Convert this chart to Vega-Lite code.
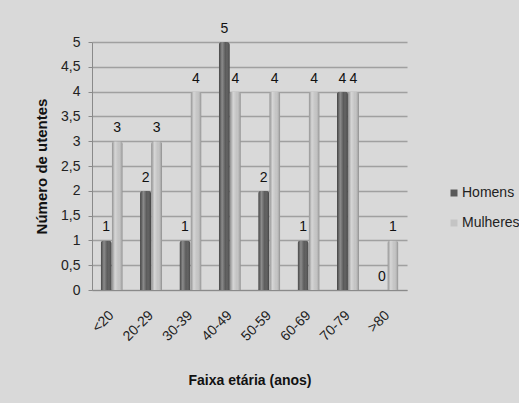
{
  "$schema": "https://vega.github.io/schema/vega-lite/v6.json",
  "width": 315,
  "height": 248,
  "autosize": {"type": "none"},
  "padding": {"left": 92, "top": 42, "right": 112, "bottom": 113},
  "background": "#d9d9d9",
  "config": {
    "view": {"stroke": null},
    "font": "Liberation Sans"
  },
  "data": {
    "values": [
      {"faixa": "<20", "sexo": "Homens", "n": 1},
      {"faixa": "<20", "sexo": "Mulheres", "n": 3},
      {"faixa": "20-29", "sexo": "Homens", "n": 2},
      {"faixa": "20-29", "sexo": "Mulheres", "n": 3},
      {"faixa": "30-39", "sexo": "Homens", "n": 1},
      {"faixa": "30-39", "sexo": "Mulheres", "n": 4},
      {"faixa": "40-49", "sexo": "Homens", "n": 5},
      {"faixa": "40-49", "sexo": "Mulheres", "n": 4},
      {"faixa": "50-59", "sexo": "Homens", "n": 2},
      {"faixa": "50-59", "sexo": "Mulheres", "n": 4},
      {"faixa": "60-69", "sexo": "Homens", "n": 1},
      {"faixa": "60-69", "sexo": "Mulheres", "n": 4},
      {"faixa": "70-79", "sexo": "Homens", "n": 4},
      {"faixa": "70-79", "sexo": "Mulheres", "n": 4},
      {"faixa": ">80", "sexo": "Homens", "n": 0},
      {"faixa": ">80", "sexo": "Mulheres", "n": 1}
    ]
  },
  "encoding": {
    "x": {
      "field": "faixa",
      "type": "nominal",
      "sort": ["<20", "20-29", "30-39", "40-49", "50-59", "60-69", "70-79", ">80"],
      "scale": {"paddingInner": 0.44, "paddingOuter": 0.22},
      "title": "Faixa etária (anos)",
      "axis": {
        "labelAngle": -45,
        "labelAlign": "right",
        "labelBaseline": "middle",
        "labelPadding": 23,
        "labelFontSize": 14,
        "labelColor": "#222222",
        "ticks": false,
        "domainColor": "#8a8a8a",
        "titleFontSize": 14,
        "titleFontWeight": "bold",
        "titleColor": "#111111",
        "titlePadding": 30
      }
    },
    "xOffset": {"field": "sexo", "type": "nominal", "sort": ["Homens", "Mulheres"]},
    "y": {
      "field": "n",
      "type": "quantitative",
      "scale": {"domain": [0, 5]},
      "title": "Número de utentes",
      "axis": {
        "values": [0, 0.5, 1, 1.5, 2, 2.5, 3, 3.5, 4, 4.5, 5],
        "labelExpr": "replace(format(datum.value, '.1~f'), '.', ',')",
        "labelFontSize": 14,
        "labelColor": "#222222",
        "labelPadding": 8,
        "tickSize": 4,
        "tickColor": "#8a8a8a",
        "domainColor": "#8a8a8a",
        "gridColor": "#a0a0a0",
        "gridWidth": 1.3,
        "titleFontSize": 15,
        "titleFontWeight": "bold",
        "titleColor": "#111111",
        "titlePadding": 11
      }
    }
  },
  "layer": [
    {
      "mark": {"type": "bar", "cornerRadiusTopLeft": 3, "cornerRadiusTopRight": 3},
      "encoding": {
        "color": {
          "field": "sexo",
          "type": "nominal",
          "sort": ["Homens", "Mulheres"],
          "scale": {"range": ["#5a5a5a", "#c4c4c4"]},
          "legend": {
            "title": null,
            "orient": "none",
            "legendX": 355,
            "legendY": 144,
            "symbolType": "square",
            "symbolSize": 49,
            "symbolStrokeWidth": 0,
            "labelFontSize": 14,
            "labelColor": "#222222",
            "labelOffset": 1,
            "rowPadding": 16,
            "padding": 0
          }
        }
      }
    },
    {
      "mark": {
        "type": "bar",
        "cornerRadiusTopLeft": 3,
        "cornerRadiusTopRight": 3,
        "fill": {
          "gradient": "linear",
          "x1": 0, "y1": 0, "x2": 1, "y2": 0,
          "stops": [
            {"offset": 0, "color": "rgba(0,0,0,0.28)"},
            {"offset": 0.3, "color": "rgba(255,255,255,0.3)"},
            {"offset": 0.6, "color": "rgba(255,255,255,0)"},
            {"offset": 1, "color": "rgba(0,0,0,0.3)"}
          ]
        }
      }
    },
    {
      "mark": {"type": "text", "baseline": "bottom", "dy": -6, "fontSize": 14, "color": "#111111"},
      "encoding": {"text": {"field": "n", "type": "quantitative"}}
    }
  ]
}
